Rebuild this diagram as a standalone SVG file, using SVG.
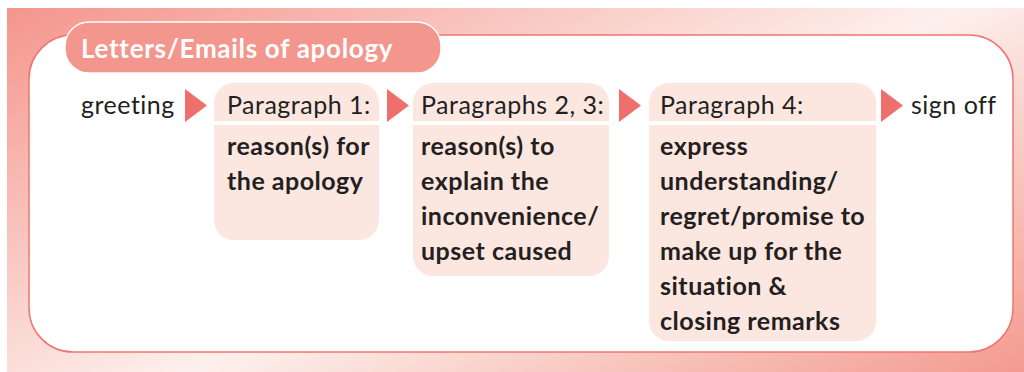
<svg xmlns="http://www.w3.org/2000/svg" width="1024" height="372" viewBox="0 0 1024 372">
  <defs>
    <linearGradient id="bg" gradientUnits="userSpaceOnUse" x1="0" y1="0" x2="331" y2="700">
      <stop offset="0" stop-color="#f4938a"/>
      <stop offset="0.54" stop-color="#fdf0ec"/>
      <stop offset="1" stop-color="#f39a8f"/>
    </linearGradient>
  </defs>
  <style>
    .arrow { fill: #ef6f6c; }
    .box { fill: #fce6e0; }
    .plain { font-family: Lato, "Open Sans", sans-serif; font-size: 25px; letter-spacing: 0.5px; fill: #231f20; }
    .bold { font-family: Lato, "Open Sans", sans-serif; font-size: 25px; letter-spacing: 0.5px; font-weight: bold; fill: #231f20; }
    .title { font-family: Lato, "Open Sans", sans-serif; font-size: 26px; letter-spacing: 0.7px; font-weight: bold; fill: #ffffff; }
  </style>
  <rect x="7" y="8" width="1017" height="364" fill="url(#bg)"/>
  <g id="panel">
    <rect x="29" y="35" width="984" height="317" rx="44" ry="44" fill="#ffffff" stroke="#ef7670" stroke-width="1.5"/>
  </g>
  <g id="title">
    <rect x="65" y="22" width="376" height="51" rx="24" ry="24" fill="#f3968e" stroke="#ffffff" stroke-width="1.5"/>
    <text class="title" x="81" y="58">Letters/Emails of apology</text>
  </g>
  <g id="greeting">
    <text class="plain" x="81" y="114">greeting</text>
  </g>
  <g id="para1">
    <path class="box" d="M214,121 V103 A20,20 0 0 1 234,83 H359 A20,20 0 0 1 379,103 V121 Z"/>
    <path class="box" d="M214,125 H379 V220 A20,20 0 0 1 359,240 H234 A20,20 0 0 1 214,220 Z"/>
    <text class="plain" x="227" y="114">Paragraph 1:</text>
    <text class="bold" x="227" y="155">reason(s) for</text>
    <text class="bold" x="227" y="190">the apology</text>
  </g>
  <g id="para23">
    <path class="box" d="M413,121 V103 A20,20 0 0 1 433,83 H589 A20,20 0 0 1 609,103 V121 Z"/>
    <path class="box" d="M413,125 H609 V256 A20,20 0 0 1 589,276 H433 A20,20 0 0 1 413,256 Z"/>
    <text class="plain" x="421" y="114">Paragraphs 2, 3:</text>
    <text class="bold" x="421" y="155">reason(s) to</text>
    <text class="bold" x="421" y="190">explain the</text>
    <text class="bold" x="421" y="225">inconvenience/</text>
    <text class="bold" x="421" y="260">upset caused</text>
  </g>
  <g id="para4">
    <path class="box" d="M649,121 V103 A20,20 0 0 1 669,83 H856 A20,20 0 0 1 876,103 V121 Z"/>
    <path class="box" d="M649,125 H876 V321 A20,20 0 0 1 856,341 H669 A20,20 0 0 1 649,321 Z"/>
    <text class="plain" x="660" y="114">Paragraph 4:</text>
    <text class="bold" x="660" y="155">express</text>
    <text class="bold" x="660" y="190">understanding/</text>
    <text class="bold" x="660" y="225">regret/promise to</text>
    <text class="bold" x="660" y="260">make up for the</text>
    <text class="bold" x="660" y="295">situation &amp;</text>
    <text class="bold" x="660" y="330">closing remarks</text>
  </g>
  <g id="signoff">
    <text class="plain" x="911" y="114">sign off</text>
  </g>
  <g id="connectors">
    <polygon class="arrow" points="185,89 185,122 207,105.5"/>
    <polygon class="arrow" points="387,89 387,122 409,105.5"/>
    <polygon class="arrow" points="619,89 619,122 641,105.5"/>
    <polygon class="arrow" points="881,89 881,122 903,105.5"/>
  </g>
</svg>
